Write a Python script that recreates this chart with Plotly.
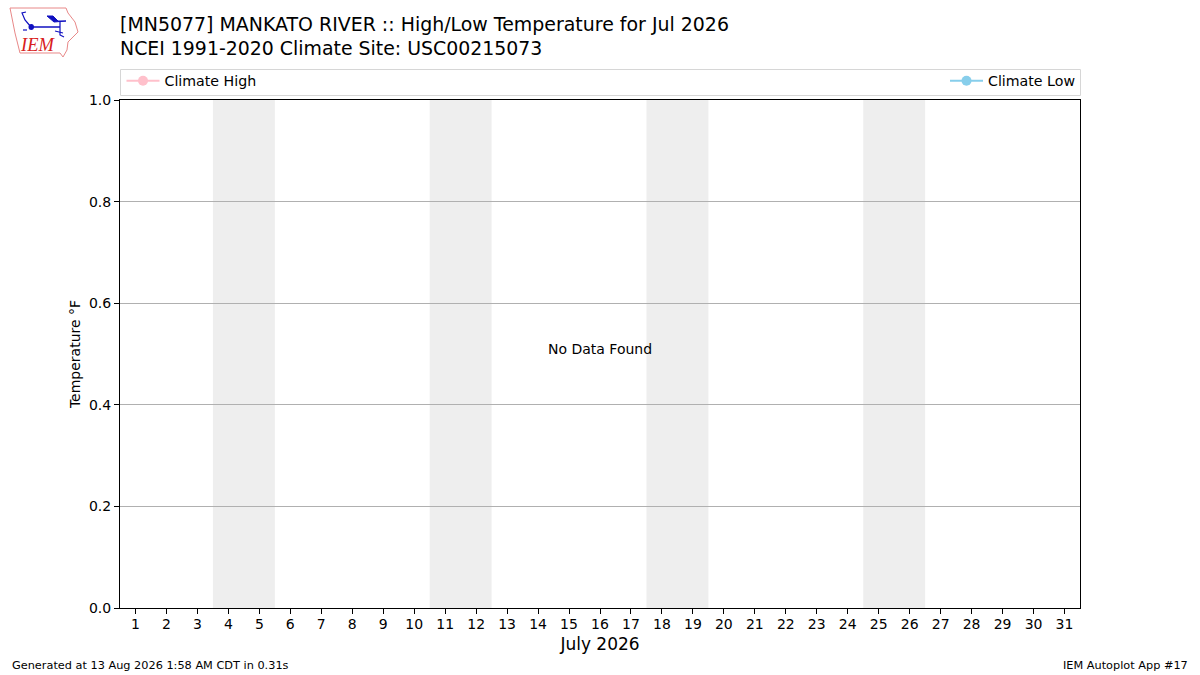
import plotly.graph_objects as go

days = list(range(1, 32))
weekend_starts = [4, 11, 18, 25]
y_ticks = [0.0, 0.2, 0.4, 0.6, 0.8, 1.0]
y_labels = ['0.0', '0.2', '0.4', '0.6', '0.8', '1.0']
climate_high = [None]
climate_low = [None]

FONT = 'DejaVu Sans'
L, R, T, B = 120, 1080, 100, 608


def px(x):
    return (x - L) / (R - L)


def py(y):
    return (B - y) / (B - T)


def pixel_path(points, close=False):
    path = 'M ' + ' L '.join(f'{px(a):.5f} {py(b):.5f}' for a, b in points)
    return path + (' Z' if close else '')


def logo_line(points, color, width, close=False, fill=None):
    return dict(type='path', xref='paper', yref='paper', path=pixel_path(points, close),
                line=dict(color=color, width=width), fillcolor=fill, layer='above')


fig = go.Figure()
fig.add_trace(go.Scatter(x=[None], y=climate_high, name='Climate High', mode='lines+markers',
                         line=dict(color='pink', width=2), marker=dict(color='pink', size=10),
                         legend='legend'))
fig.add_trace(go.Scatter(x=[None], y=climate_low, name='Climate Low', mode='lines+markers',
                         line=dict(color='skyblue', width=2), marker=dict(color='skyblue', size=10),
                         legend='legend2'))

shapes = []
# weekends
for d in weekend_starts:
    shapes.append(dict(type='rect', xref='x', yref='paper', x0=d - 0.5, x1=d + 1.5, y0=0, y1=1,
                       fillcolor='#eeeeee', line_width=0, layer='below'))
# legend frame
shapes.append(dict(type='rect', xref='paper', yref='paper', x0=px(120.5), x1=px(1080.5),
                   y0=py(95.5), y1=py(69.5), line=dict(color='#d6d6d6', width=1), layer='above'))
# logo
blue = '#1010c0'
shapes.append(logo_line([(10, 8), (66, 8), (68, 13), (75, 22), (78, 32), (68, 42), (67, 50),
                         (63, 57), (60, 53), (20, 53), (15, 33), (12, 18)],
                        '#e88888', 1, close=True))
shapes.append(logo_line([(31, 27), (60, 27)], blue, 1.5))
shapes.append(logo_line([(31, 27), (25, 20), (22, 13), (26, 12)], blue, 1.2))
shapes.append(logo_line([(47, 16), (53, 16), (58, 21), (66, 21), (54, 22)], blue, 1, close=True, fill=blue))
shapes.append(logo_line([(60, 22), (60, 35), (64, 37)], blue, 1.2))
shapes.append(logo_line([(55, 31), (63, 33)], blue, 1.2))
shapes.append(logo_line([(23, 30), (27, 30)], blue, 1.2))
shapes.append(dict(type='circle', xref='paper', yref='paper', x0=px(28.5), x1=px(34), y0=py(30), y1=py(24),
                   fillcolor=blue, line_width=0, layer='above'))

annotations = [
    dict(text='[MN5077] MANKATO RIVER :: High/Low Temperature for Jul 2026', x=px(118), y=py(24),
         font=dict(size=18.95)),
    dict(text='NCEI 1991-2020 Climate Site: USC00215073', x=px(118), y=py(48), font=dict(size=18.9)),
    dict(text='Generated at 13 Aug 2026 1:58 AM CDT in 0.31s', x=px(10), y=py(665), font=dict(size=11.3)),
    dict(text='IEM Autoplot App #17', x=px(1190), y=py(665), xanchor='right', font=dict(size=11.3)),
    dict(text='<i>IEM</i>', x=px(18), y=py(45), font=dict(size=18.5, color='#d82020', family='Liberation Serif')),
    dict(text='No Data Found', x=16, xref='x', y=0.5, yref='y', xanchor='center', yshift=5, font=dict(size=14)),
]
for a in annotations:
    a.setdefault('xref', 'paper')
    a.setdefault('yref', 'paper')
    a.setdefault('xanchor', 'left')
    a.update(yanchor='middle', showarrow=False)

fig.update_layout(
    width=1200, height=675, autosize=False,
    margin=dict(l=120, r=120, t=100, b=67, pad=0),
    paper_bgcolor='white', plot_bgcolor='white',
    font=dict(family=FONT, size=14, color='black'),
    shapes=shapes, annotations=annotations,
    showlegend=True,
    legend=dict(x=px(121.5), y=py(81), xanchor='left', yanchor='middle', bgcolor='rgba(0,0,0,0)',
                font=dict(size=14.2), itemwidth=33),
    legend2=dict(x=px(1081), y=py(81), xanchor='right', yanchor='middle', bgcolor='rgba(0,0,0,0)',
                 font=dict(size=14.2), itemwidth=33),
    xaxis=dict(range=[0.5, 31.5], tickmode='array', tickvals=days, ticktext=[str(d) for d in days],
               ticks='outside', ticklen=5, tickwidth=1, tickcolor='black', showgrid=False, zeroline=False,
               showline=True, linecolor='black', linewidth=1, mirror=True, ticklabelstandoff=-2,
               title=dict(text='July 2026', font=dict(size=17), standoff=7)),
    yaxis=dict(range=[0, 1], tickmode='array', tickvals=y_ticks, ticktext=y_labels,
               ticks='outside', ticklen=5, tickwidth=1, tickcolor='black', showgrid=True, gridcolor='#b0b0b0',
               gridwidth=1, zeroline=False, showline=True, linecolor='black', linewidth=1, mirror=True,
               title=dict(text='Temperature °F', font=dict(size=14), standoff=5)),
)

# the page's default body margin would push the figure off the window
fig.write_html('out.html', config=dict(displayModeBar=False),
               post_script="document.body.style.margin = '0';")
